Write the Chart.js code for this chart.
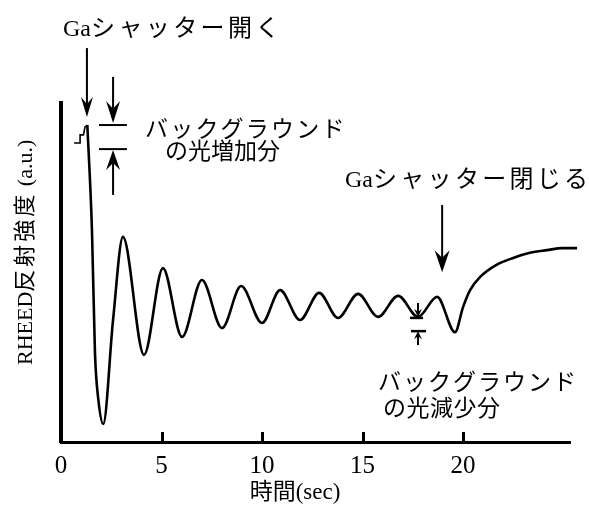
<!DOCTYPE html>
<html>
<head>
<meta charset="utf-8">
<script src="https://cdn.jsdelivr.net/npm/chart.js@4.4.1/dist/chart.umd.min.js"></script>
<style>
  html, body { margin: 0; padding: 0; background: #fff; }
  #wrap { width: 589px; height: 509px; }
</style>
</head>
<body>
<div id="wrap"><canvas id="c" width="589" height="509"></canvas></div>
<script>
// RHEED intensity oscillation during GaAs growth (arbitrary units, 0-100)
// Background step right before the Ga shutter opens
const STEP_TIME      = [0.65, 0.95, 0.95, 1.12, 1.19, 1.31];
const STEP_INTENSITY = [88.2, 88.2, 90.6, 90.6, 92.9, 93.5];

// Oscillation after the shutter opens and recovery after it closes
const TIME = [1.31, 1.54, 1.69, 1.86, 2.10, 2.59, 3.08, 4.13, 5.07, 6.02, 7.01, 8.01,
              8.96, 10.0, 10.9, 11.89, 12.84, 13.78, 14.78, 15.77, 16.77, 17.76, 18.71,
              19.6, 20.0, 20.35, 20.85, 21.64, 22.49, 23.33, 24.18, 24.93, 25.67];
const INTENSITY = [93.5, 62.5, 26.3, 12.4, 5.3, 36.0, 60.5, 25.7, 51.3, 31.0, 47.8, 33.6,
                   46.0, 35.1, 44.8, 36.0, 44.0, 36.6, 43.7, 36.9, 43.1, 36.9, 42.8,
                   32.4, 39.8, 44.8, 48.7, 52.2, 54.3, 55.8, 56.6, 57.2, 57.2];

const X_TICKS = [0, 5, 10, 15, 20];
const X_TITLE = '時間(sec)';
const Y_TITLE = 'RHEED反射強度 (a.u.)';
const LABEL_OPEN  = 'Gaシャッター開く';
const LABEL_CLOSE = 'Gaシャッター閉じる';
const LABEL_BG    = 'バックグラウンド';
const LABEL_UP    = 'の光増加分';
const LABEL_DOWN  = 'の光減少分';

const FONT = '"Liberation Serif", "Noto Sans CJK JP", serif';

function isCJK(ch) { return ch.charCodeAt(0) >= 0x3000; }

// Draws a string glyph by glyph so wide kana/kanji get extra tracking
function spacedText(ctx, str, left, midY, size, spacing) {
  ctx.font = size + 'px ' + FONT;
  ctx.textBaseline = 'middle';
  ctx.textAlign = 'left';
  let cx = left;
  for (const ch of str) {
    ctx.fillText(ch, cx, midY);
    cx += ctx.measureText(ch).width + (isCJK(ch) ? spacing : 0);
  }
  return cx - left;
}
function textWidth(ctx, str, size, spacing) {
  ctx.font = size + 'px ' + FONT;
  let w = 0;
  for (const ch of str) w += ctx.measureText(ch).width + (isCJK(ch) ? spacing : 0);
  return w;
}

// Vertical arrow: dir = 1 points down, -1 points up
function arrow(ctx, x, y0, tip, dir, headW, headH, lw) {
  ctx.lineWidth = lw;
  ctx.beginPath();
  ctx.moveTo(x, y0);
  ctx.lineTo(x, tip - dir * headH * 0.6);
  ctx.stroke();
  ctx.beginPath();
  ctx.moveTo(x, tip);
  ctx.lineTo(x - headW / 2, tip - dir * headH);
  ctx.lineTo(x, tip - dir * headH * 0.65);
  ctx.lineTo(x + headW / 2, tip - dir * headH);
  ctx.closePath();
  ctx.fill();
}
function hbar(ctx, x0, x1, y, lw) {
  ctx.lineWidth = lw;
  ctx.beginPath();
  ctx.moveTo(x0, y);
  ctx.lineTo(x1, y);
  ctx.stroke();
}

const annotations = {
  id: 'annotations',
  afterDatasetsDraw(chart) {
    const ctx = chart.ctx;
    const xs = chart.scales.x, ys = chart.scales.y;
    const X = v => xs.getPixelForValue(v);
    const Y = v => ys.getPixelForValue(v);
    ctx.save();
    ctx.strokeStyle = '#000';
    ctx.fillStyle = '#000';
    ctx.lineCap = 'butt';

    // inward tick marks on the time axis
    ctx.lineWidth = 3;
    X_TICKS.forEach(t => {
      if (t === 0) return;
      const px = Math.round(X(t)) + 0.5;
      ctx.beginPath();
      ctx.moveTo(px, ys.bottom);
      ctx.lineTo(px, ys.bottom - 10);
      ctx.stroke();
    });

    // shutter open arrow
    arrow(ctx, X(1.29), Y(116.2), Y(95.9), 1, 12, 20, 2);

    // background increase marker
    arrow(ctx, X(2.59), Y(107.7), Y(94.1), 1, 14, 22, 2);
    hbar(ctx, X(1.89), X(3.28), Y(93.5), 2);
    hbar(ctx, X(1.89), X(3.28), Y(86.4), 2);
    arrow(ctx, X(2.59), Y(72.9), Y(86.1), -1, 14, 20, 2);

    // shutter close arrow
    arrow(ctx, X(18.96), Y(69.9), Y(50.1), 1, 15, 22, 2);

    // background decrease marker
    arrow(ctx, X(17.76), Y(41.0), Y(36.9), 1, 8, 8, 2);
    hbar(ctx, X(17.36), X(18.01), Y(36.6), 2.5);
    hbar(ctx, X(17.41), X(18.16), Y(32.7), 2.5);
    arrow(ctx, X(17.76), Y(28.6), Y(32.7), -1, 8, 8, 2);

    // labels
    spacedText(ctx, LABEL_OPEN, 63, 30, 24, 3.4);
    spacedText(ctx, LABEL_BG, 145, 131, 23, 2.2);
    spacedText(ctx, LABEL_UP, 165, 153, 23, 0);
    spacedText(ctx, LABEL_CLOSE, 345, 181, 24, 3.3);
    spacedText(ctx, LABEL_BG, 378, 384, 23, 2);
    spacedText(ctx, LABEL_DOWN, 383, 410, 23, 0.5);

    // axis titles
    const wx = textWidth(ctx, X_TITLE, 23, 0);
    spacedText(ctx, X_TITLE, 295 - wx / 2, 493, 23, 0);
    ctx.translate(26, 365);
    ctx.rotate(-Math.PI / 2);
    spacedText(ctx, Y_TITLE, 0, 0, 22, 3);
    ctx.restore();
  }
};

new Chart(document.getElementById('c'), {
  type: 'line',
  data: {
    datasets: [
      {
        data: STEP_TIME.map((t, i) => ({ x: t, y: STEP_INTENSITY[i] })),
        borderColor: '#000', borderWidth: 1.6, tension: 0,
        pointRadius: 0, fill: false, clip: false
      },
      {
        data: TIME.map((t, i) => ({ x: t, y: INTENSITY[i] })),
        borderColor: '#000', borderWidth: 2.6, cubicInterpolationMode: 'monotone',
        pointRadius: 0, fill: false, clip: false
      }
    ]
  },
  options: {
    responsive: false,
    animation: false,
    devicePixelRatio: 1,
    layout: { padding: { top: 103, right: 19, bottom: 0, left: 0 } },
    plugins: { legend: { display: false }, tooltip: { enabled: false } },
    scales: {
      x: {
        type: 'linear', min: 0, max: 25.32,
        afterBuildTicks: s => { s.ticks = X_TICKS.map(v => ({ value: v })); },
        afterFit: s => { s.height = 67; },
        grid: { display: false, drawTicks: false },
        border: { display: true, color: '#000', width: 3 },
        ticks: { color: '#000', font: { family: FONT, size: 25 }, padding: 9, maxRotation: 0, autoSkip: false }
      },
      y: {
        type: 'linear', min: 0, max: 100,
        afterFit: s => { s.width = 61; },
        grid: { display: false, drawTicks: false },
        border: { display: true, color: '#000', width: 4 },
        ticks: { display: false }
      }
    }
  },
  plugins: [annotations]
});
</script>
</body>
</html>
